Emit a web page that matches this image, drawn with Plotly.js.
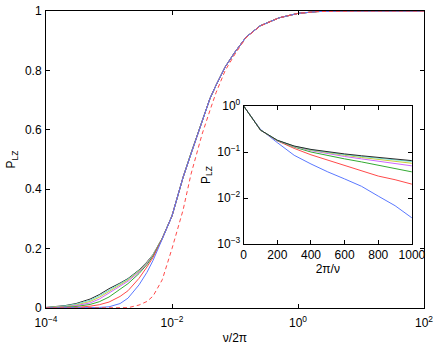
<!DOCTYPE html>
<html>
<head>
<meta charset="utf-8">
<script src="https://cdn.plot.ly/plotly-3.0.1.min.js"></script>
<style>html,body{margin:0;padding:0;background:#fff;}#chart{width:436px;height:345px;}</style>
</head>
<body>
<div id="chart"></div>
<script>
// Main plot: x = nu/2pi (log), y = P_LZ
const nu = [1e-4, 1.5e-4, 2e-4, 3e-4, 5e-4, 7e-4, 1e-3, 1.5e-3, 2e-3, 3e-3, 4e-3, 5e-3, 7e-3,
            1e-2, 1.5e-2, 2e-2, 3e-2, 4e-2, 5e-2, 7e-2, 0.1, 0.15, 0.25, 0.5, 1, 2, 5, 10, 100];

const pBlack   = [0.002,0.005,0.008,0.015,0.030,0.045,0.065,0.084,0.099,0.128,0.155,0.180,0.235,
                  0.31,0.44,0.52,0.63,0.705,0.75,0.812,0.862,0.912,0.95,0.977,0.992,0.998,1,1,1];
const pCyan    = [0.001,0.004,0.007,0.013,0.026,0.041,0.061,0.081,0.097,0.126,0.153,0.179,0.235,
                  0.31,0.44,0.52,0.63,0.705,0.75,0.812,0.862,0.912,0.95,0.977,0.992,0.998,1,1,1];
const pYellow  = [0.001,0.003,0.005,0.010,0.022,0.036,0.056,0.077,0.094,0.124,0.152,0.178,0.235,
                  0.31,0.44,0.52,0.63,0.705,0.75,0.812,0.862,0.912,0.95,0.977,0.992,0.998,1,1,1];
const pMagenta = [0,0.002,0.004,0.008,0.017,0.030,0.050,0.072,0.090,0.121,0.150,0.177,0.234,
                  0.31,0.44,0.52,0.63,0.705,0.75,0.812,0.862,0.912,0.95,0.977,0.992,0.998,1,1,1];
const pGreen   = [0,0.001,0.002,0.005,0.012,0.021,0.037,0.062,0.082,0.116,0.146,0.175,0.234,
                  0.31,0.44,0.52,0.63,0.705,0.75,0.812,0.862,0.912,0.95,0.977,0.992,0.998,1,1,1];
const pRed     = [0,0,0.001,0.002,0.006,0.011,0.020,0.039,0.058,0.100,0.138,0.170,0.233,
                  0.31,0.44,0.52,0.63,0.705,0.75,0.812,0.862,0.912,0.95,0.977,0.992,0.998,1,1,1];
const pBlue    = [0,0,0,0,0.001,0.002,0.004,0.015,0.033,0.078,0.120,0.160,0.232,
                  0.31,0.44,0.52,0.63,0.705,0.75,0.812,0.862,0.912,0.95,0.977,0.992,0.998,1,1,1];
const pDashed  = [0,0,0,0,0,0,0,0,0.001,0.010,0.022,0.040,0.095,
                  0.20,0.33,0.45,0.585,0.665,0.725,0.80,0.855,0.91,0.949,0.977,0.992,0.998,1,1,1];

// Inset: x = 2pi/nu, y = P_LZ (log)
const tau = [0,100,200,300,400,500,600,700,800,900,1000];
const iBlack   = [1,0.30,0.180,0.135,0.114,0.100,0.091,0.083,0.076,0.070,0.065];
const iCyan    = [1,0.30,0.180,0.134,0.112,0.098,0.088,0.080,0.073,0.067,0.062];
const iYellow  = [1,0.30,0.180,0.133,0.110,0.095,0.085,0.076,0.069,0.062,0.057];
const iMagenta = [1,0.30,0.178,0.131,0.107,0.091,0.080,0.071,0.063,0.056,0.050];
const iGreen   = [1,0.30,0.177,0.128,0.100,0.083,0.071,0.061,0.051,0.043,0.037];
const iRed     = [1,0.30,0.175,0.120,0.087,0.066,0.051,0.039,0.030,0.025,0.020];
const iBlue    = [1,0.31,0.160,0.085,0.055,0.037,0.026,0.018,0.011,0.0068,0.0037];

const mainTickVals = [1e-4, 1e-2, 1, 100];
const mainTickText = ['10<sup>−4</sup>','10<sup>−2</sup>','10<sup>0</sup>','10<sup>2</sup>'];
const insetYTickVals = [1e-3, 1e-2, 1e-1, 1];
const insetYTickText = ['10<sup>−3</sup>','10<sup>−2</sup>','10<sup>−1</sup>','10<sup>0</sup>'];

const colors = {
  black: '#2a2a2a', cyan: '#6ee0d4', yellow: '#c9cf3c', magenta: '#cc66ff',
  green: '#33aa33', red: '#ff4a4a', blue: '#5a78ff'
};

function ln(x, y, color, xa, ya, dash) {
  return {x: x, y: y, type: 'scatter', mode: 'lines', xaxis: xa, yaxis: ya,
          line: {color: color, width: 1, dash: dash || 'solid'}, hoverinfo: 'skip', showlegend: false};
}

const data = [
  ln(nu, pBlack, colors.black, 'x', 'y'),
  ln(nu, pCyan, colors.cyan, 'x', 'y'),
  ln(nu, pYellow, colors.yellow, 'x', 'y'),
  ln(nu, pMagenta, colors.magenta, 'x', 'y'),
  ln(nu, pGreen, colors.green, 'x', 'y'),
  ln(nu, pRed, colors.red, 'x', 'y'),
  ln(nu, pBlue, colors.blue, 'x', 'y'),
  ln(nu, pDashed, colors.red, 'x', 'y', '4px,3px'),
  ln(tau, iBlue, colors.blue, 'x2', 'y2'),
  ln(tau, iRed, colors.red, 'x2', 'y2'),
  ln(tau, iGreen, colors.green, 'x2', 'y2'),
  ln(tau, iMagenta, colors.magenta, 'x2', 'y2'),
  ln(tau, iYellow, colors.yellow, 'x2', 'y2'),
  ln(tau, iCyan, colors.cyan, 'x2', 'y2'),
  ln(tau, iBlack, colors.black, 'x2', 'y2')
];

const axisCommon = {
  showgrid: false, zeroline: false, showline: true, linecolor: '#000', linewidth: 1,
  mirror: 'ticks', ticks: 'inside', ticklen: 4, tickwidth: 1, tickcolor: '#000',
  tickfont: {size: 12, color: '#000'}
};

const layout = {
  width: 436, height: 345,
  margin: {l: 46, r: 12, t: 11, b: 37, pad: 0},
  paper_bgcolor: '#fff', plot_bgcolor: '#fff',
  font: {family: '"Liberation Sans", Arial, sans-serif', size: 12, color: '#000'},
  showlegend: false,
  xaxis: Object.assign({}, axisCommon, {
    type: 'log', range: [-4, 2], tickvals: mainTickVals, ticktext: mainTickText,
    ticklabelstandoff: 4,
    title: {text: 'ν/2π', font: {size: 12}, standoff: 5}, domain: [0, 1]
  }),
  yaxis: Object.assign({}, axisCommon, {
    range: [0, 1], tickvals: [0, 0.2, 0.4, 0.6, 0.8, 1], ticktext: ['0','0.2','0.4','0.6','0.8','1'],
    ticklabelstandoff: 1,
    title: {text: 'P<sub>LZ</sub>', font: {size: 12}, standoff: 6}, domain: [0, 1]
  }),
  xaxis2: Object.assign({}, axisCommon, {
    anchor: 'y2', domain: [0.523, 0.968], range: [0, 1000],
    tickvals: [0, 200, 400, 600, 800, 1000],
    title: {text: '2π/ν', font: {size: 12}, standoff: 0}
  }),
  yaxis2: Object.assign({}, axisCommon, {
    anchor: 'x2', domain: [0.2155, 0.680], type: 'log', range: [-3, 0],
    tickvals: insetYTickVals, ticktext: insetYTickText,
    title: {text: 'P<sub>LZ</sub>', font: {size: 12}, standoff: 4}
  })
};

Plotly.newPlot('chart', data, layout, {staticPlot: true, displayModeBar: false});
</script>
</body>
</html>
